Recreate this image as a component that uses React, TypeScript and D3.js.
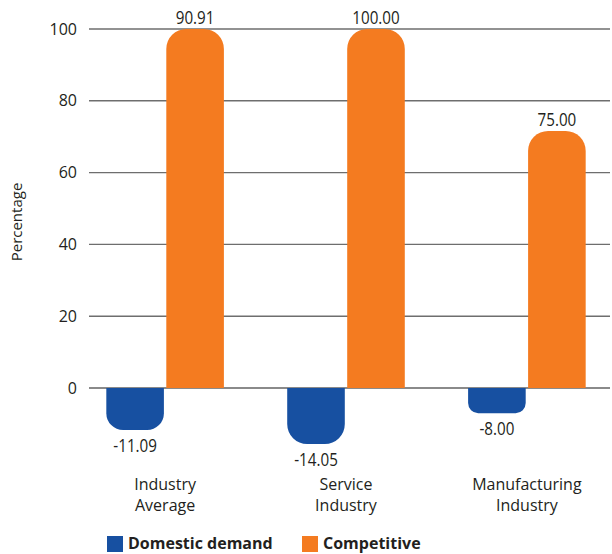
import React from "react";
import * as d3 from "d3";

const categories = ["Industry Average", "Service Industry", "Manufacturing Industry"];
const categoryLines = [["Industry", "Average"], ["Service", "Industry"], ["Manufacturing", "Industry"]];
const seriesNames = ["Domestic demand", "Competitive"];
const domesticValues = [-11.09, -14.05, -8.0];
const competitiveValues = [90.91, 100.0, 75.0];
// bar lengths as drawn in the reference picture
const domesticBars = [-11.7, -15.6, -7.0];
const competitiveBars = [100, 100, 71.6];
const yTicks = [0, 20, 40, 60, 80, 100];
const colors = ["#1750A1", "#F47B20"];

const W = 612;
const H = 554;
const FONT = "'Open Sans', sans-serif";

function barPath(x: number, w: number, y0: number, y1: number, r: number) {
  const p = d3.path();
  if (y1 < y0) {
    p.moveTo(x, y0);
    p.lineTo(x, y1 + r);
    p.arcTo(x, y1, x + r, y1, r);
    p.lineTo(x + w - r, y1);
    p.arcTo(x + w, y1, x + w, y1 + r, r);
    p.lineTo(x + w, y0);
  } else {
    p.moveTo(x, y0);
    p.lineTo(x, y1 - r);
    p.arcTo(x, y1, x + r, y1, r);
    p.lineTo(x + w - r, y1);
    p.arcTo(x + w, y1, x + w, y1 - r, r);
    p.lineTo(x + w, y0);
  }
  p.closePath();
  return p.toString();
}

export default function App() {
  const y = d3.scaleLinear().domain([0, 100]).range([388, 29]);
  const x0 = d3.scaleBand().domain(categories).range([43, 649]).paddingInner(0.35).paddingOuter(0.35);
  const x1 = d3.scaleBand().domain(seriesNames).range([0, x0.bandwidth()]).paddingInner(0.04);

  const seriesBars = [domesticBars, competitiveBars];
  const seriesVals = [domesticValues, competitiveValues];

  return (
    <svg width={W} height={H} style={{ position: "absolute", left: 0, top: 0, background: "#fff" }}>
      {yTicks.map((t) => (
        <g key={t}>
          <line x1={89} x2={610} y1={y(t)} y2={y(t)} stroke={t === 0 ? "#8a8a8a" : "#6e6e6e"} strokeWidth={t === 0 ? 2 : 1.4} />
          <text x={77} y={y(t)} dy="0.35em" textAnchor="end" fontFamily={FONT} fontSize={16} fill="#231f20">
            {t}
          </text>
        </g>
      ))}
      <text
        transform={`translate(22,222) rotate(-90)`}
        textAnchor="middle"
        fontFamily={FONT}
        fontSize={15}
        fill="#231f20"
      >
        Percentage
      </text>
      {categories.map((c, i) => (
        <g key={c}>
          {seriesNames.map((s, j) => {
            const v = seriesBars[j][i];
            const bx = (x0(c) as number) + (x1(s) as number);
            const bw = x1.bandwidth();
            const y0 = y(0);
            const yv = y(v);
            const h = Math.abs(yv - y0);
            const r = Math.min(20, h * 0.4);
            const labelY = v >= 0 ? yv - 5 : yv + 22;
            return (
              <g key={s}>
                <path d={barPath(bx, bw, y0, yv, r)} fill={colors[j]} />
                <text
                  transform={`translate(${bx + bw / 2},${labelY}) scale(0.8,1)`}
                  textAnchor="middle"
                  fontFamily={FONT}
                  fontSize={19}
                  fill="#231f20"
                >
                  {seriesVals[j][i].toFixed(2)}
                </text>
              </g>
            );
          })}
          {categoryLines[i].map((ln, k) => (
            <text
              key={k}
              x={(x0(c) as number) + x0.bandwidth() / 2}
              y={490 + k * 21}
              textAnchor="middle"
              fontFamily={FONT}
              fontSize={16}
              fill="#231f20"
            >
              {ln}
            </text>
          ))}
        </g>
      ))}
      {seriesNames.map((s, j) => {
        const lx = j === 0 ? 107 : 302;
        return (
          <g key={s}>
            <rect x={lx} y={536} width={16} height={16} fill={colors[j]} />
            <text x={lx + 21} y={549} fontFamily={FONT} fontSize={16} fontWeight="bold" fill="#231f20">
              {s}
            </text>
          </g>
        );
      })}
    </svg>
  );
}
